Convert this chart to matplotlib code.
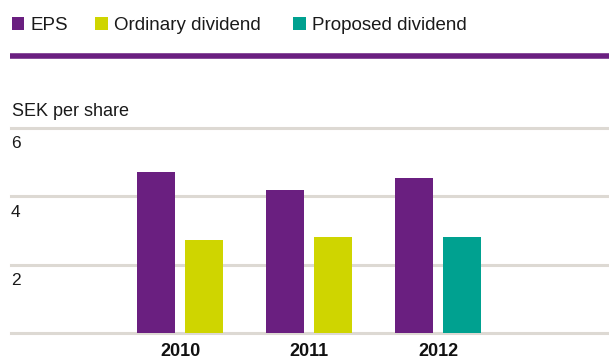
import matplotlib
matplotlib.use("Agg")
import matplotlib.pyplot as plt
from matplotlib.patches import Rectangle
from matplotlib.transforms import blended_transform_factory
from matplotlib.lines import Line2D

plt.rcParams['font.family'] = ['Liberation Sans', 'DejaVu Sans']

years = ["2010", "2011", "2012"]
eps = [4.71, 4.18, 4.53]
dividend = [2.72, 2.81, 2.81]
dividend_colors = ["#CFD500", "#CFD500", "#00A190"]
series_names = ["EPS", "Ordinary dividend", "Proposed dividend"]
series_colors = ["#6A1F80", "#CFD500", "#00A190"]
yticks = [0, 2, 4, 6]
ytick_labels = ["", "2", "4", "6"]
ylabel = "SEK per share"

W, H = 609, 360
fig = plt.figure(figsize=(W / 100, H / 100), dpi=100)

def fx(px):
    return px / W

def fy(py):
    return 1 - py / H

ax_left, ax_right = 11, 609
ax_bottom, ax_top = 333, 127.7
ax = fig.add_axes([fx(ax_left), fy(ax_bottom), fx(ax_right - ax_left), (ax_bottom - ax_top) / H])

spacing = 129.0
c0 = 180.0
ax.set_xlim(-(c0 - ax_left) / spacing, (ax_right - c0) / spacing)
ax.set_ylim(0, 6)
ax.axis("off")

bw = 38 / spacing
off = 24 / spacing
x = list(range(len(years)))

for v in yticks:
    ax.axhline(v, color="#DDD9D3", lw=2.2, zorder=1, clip_on=False)

ax.bar([i - off for i in x], eps, width=bw, color=series_colors[0], zorder=3)
ax.bar([i + off for i in x], dividend, width=bw, color=dividend_colors, zorder=3)

trans = blended_transform_factory(ax.transAxes, ax.transData)
for v, lab in zip(yticks, ytick_labels):
    if lab:
        ax.text(0, v - 0.6, lab, transform=trans, ha="left", va="baseline",
                fontsize=12.5, color="#1a1a1a")

for i, yr in enumerate(years):
    fig.text(fx(c0 + i * spacing), fy(355.8), yr, ha="center", va="baseline",
             fontsize=13, fontweight="bold", color="#111111")

fig.text(fx(11.5), fy(115.7), ylabel, ha="left", va="baseline", fontsize=13, color="#1a1a1a")

# top purple rule
fig.add_artist(Line2D([fx(10.3), fx(609)], [fy(55.8), fy(55.8)], color="#6A1F80", lw=4.0,
                      solid_capstyle="butt"))

# legend
leg_x = [11.5, 95, 293]
for lx, name, col in zip(leg_x, series_names, series_colors):
    fig.add_artist(Rectangle((fx(lx), fy(30)), fx(12.7), 12.7 / H, color=col, lw=0))
    fig.text(fx(lx + 18.5), fy(30.5), name, ha="left", va="baseline", fontsize=13.5, color="#1a1a1a")

fig.savefig("out.png", dpi=100)
